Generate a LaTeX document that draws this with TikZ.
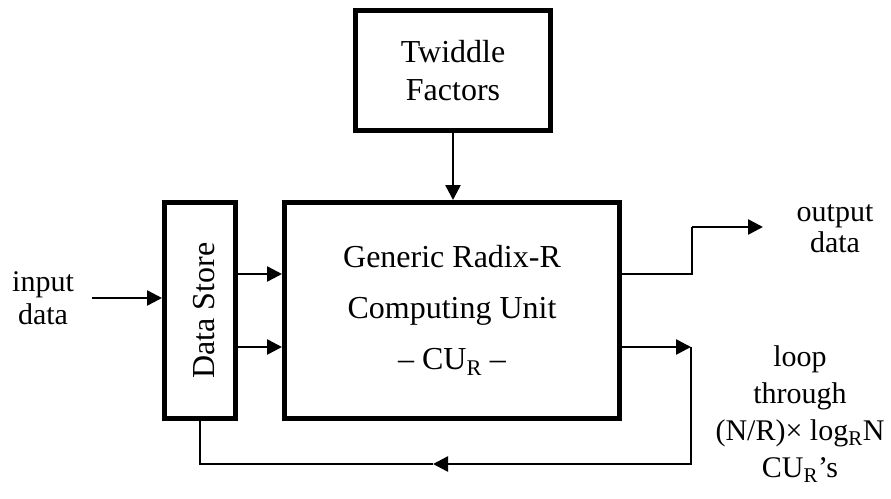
\documentclass[tikz,border=0pt]{standalone}
\usepackage{fontspec}
\setmainfont{Liberation Serif}
\usetikzlibrary{arrows.meta}
\begin{document}
\begin{tikzpicture}[x=1pt,y=-1pt,
  blockbox/.style={draw,line width=5pt,fill=white,align=center,inner sep=0pt},
  wire/.style={line width=2.5pt},
  arr/.style={wire,-{Triangle[length=15pt,width=15pt]}},
  lbl/.style={align=center,inner sep=0pt}]
\useasboundingbox[fill=white] (0,0) rectangle (891,498);

% blocks
\node[blockbox,minimum width=195pt,minimum height=120pt,
      font=\fontsize{32}{38}\selectfont] (tw) at (453,70.5) {Twiddle\\Factors};
\node[blockbox,minimum width=71pt,minimum height=216pt] (ds) at (200,310.5) {};
\node[lbl,rotate=90,font=\fontsize{32}{36}\selectfont] (dslabel) at (204,310.5) {Data Store};
\node[blockbox,minimum width=335pt,minimum height=216pt,
      font=\fontsize{32}{51}\selectfont] (cu) at (452,310.5)
      {Generic Radix-R\\Computing Unit\\– CU\textsubscript{R} –};

% free labels
\node[lbl,font=\fontsize{30}{33}\selectfont] (inlab) at (43,298.5) {input\\data};
\node[lbl,font=\fontsize{30}{31}\selectfont] (outlab) at (835,228.5) {output\\data};
\node[lbl,font=\fontsize{30}{37}\selectfont] (looplab) at (800,414)
      {loop\\through\\(N/R)× log\textsubscript{R}N\\CU\textsubscript{R}’s};

% helper points
\coordinate (rowin) at (92,298);
\coordinate (rowa) at (0,274);
\coordinate (rowb) at (0,347);
\coordinate (outcorner) at (692,227);
\coordinate (outend) at (763,227);
\coordinate (loopcorner) at (691,347);
\coordinate (loopmid) at (433,464);

% connectors
\draw[arr] (rowin) -- (ds.west |- rowin);
\draw[arr] (tw.south) -- (tw.south |- cu.north);
\draw[arr] (ds.east |- rowa) -- (cu.west |- rowa);
\draw[arr] (ds.east |- rowb) -- (cu.west |- rowb);
\draw[wire] (cu.east |- rowa) -| (outcorner);
\draw[arr] (outcorner) -- (outend);
\draw[arr] (cu.east |- rowb) -- (loopcorner);
\draw[arr] (loopcorner) |- (loopmid);
\draw[wire] (loopmid) -| (ds.south);
\end{tikzpicture}
\end{document}
